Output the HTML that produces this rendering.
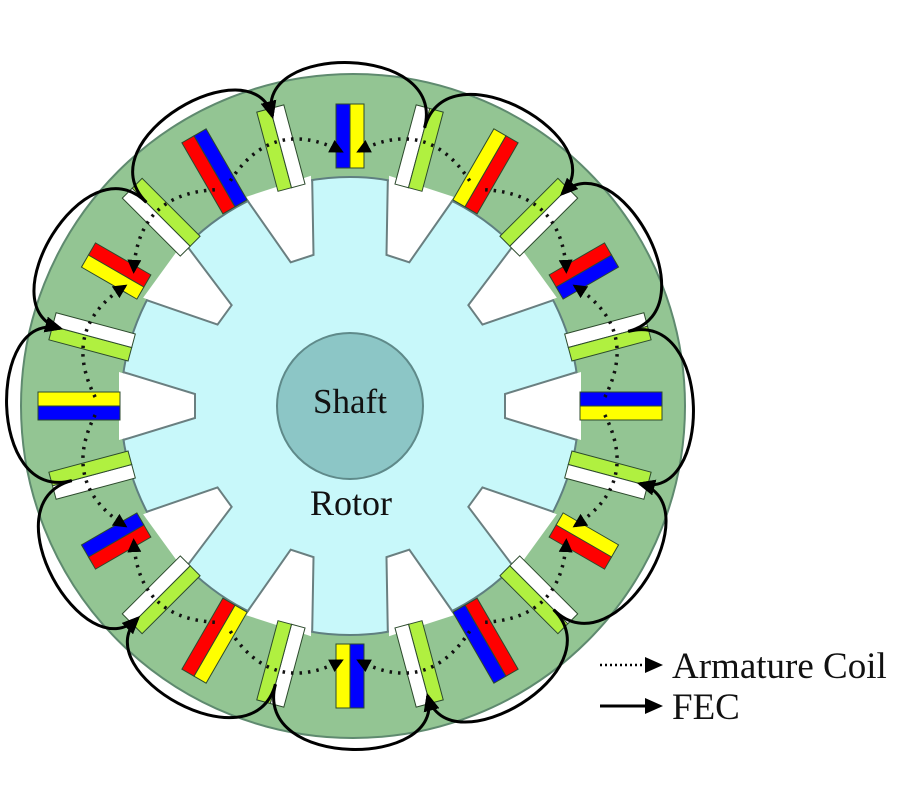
<!DOCTYPE html>
<html><head><meta charset="utf-8"><style>
html,body{margin:0;padding:0;background:#fff;}
svg{display:block;}
text{font-family:"Liberation Serif",serif;fill:#111;}
</style></head><body>
<svg id="s" width="900" height="800" viewBox="0 0 900 800" xmlns="http://www.w3.org/2000/svg">
<defs>
<marker id="ah" markerWidth="14" markerHeight="14" refX="11" refY="7" orient="auto" markerUnits="userSpaceOnUse">
<path d="M0,0 L14,7 L0,14 z" fill="#000"/></marker>
<marker id="ah2" markerWidth="18" markerHeight="18" refX="15" refY="9" orient="auto" markerUnits="userSpaceOnUse">
<path d="M0,1 L18,9 L0,17 z" fill="#000"/></marker>
</defs>
<circle cx="353" cy="406" r="332" fill="#93c593" stroke="#5f8a6f" stroke-width="2"/>
<circle cx="350" cy="406" r="229" fill="#c8f8fa" stroke="#5f7f80" stroke-width="2"/>
<g id="notches"></g>
<g id="slots"></g>
<circle cx="350" cy="406" r="73" fill="#8cc6c6" stroke="#5f8a8a" stroke-width="2"/>
<text x="350" y="413" font-size="35" text-anchor="middle">Shaft</text>
<text x="351" y="515" font-size="36" text-anchor="middle">Rotor</text>
<g id="dots"></g>
<g id="fec"></g>
<line x1="600" y1="665" x2="660" y2="665" stroke="#000" stroke-width="2.5" stroke-dasharray="2,3" marker-end="url(#ah2)"/>
<text x="672" y="678" font-size="37">Armature Coil</text>
<line x1="600" y1="706" x2="660" y2="706" stroke="#000" stroke-width="3" marker-end="url(#ah2)"/>
<text x="672" y="719" font-size="37">FEC</text>
</svg>
<script>
var cx=350,cy=406,NS="http://www.w3.org/2000/svg";
function el(p,t,a){var e=document.createElementNS(NS,t);for(var k in a)e.setAttribute(k,a[k]);p.appendChild(e);return e;}
function P(a,r){var t=a*Math.PI/180;return [cx+r*Math.cos(t),cy-r*Math.sin(t)];}
var N=document.getElementById("notches");
for(var i=0;i<10;i++){var a=i*36;
 var g=el(N,"g",{transform:"rotate("+(-a)+" "+cx+" "+cy+")"});
 el(g,"polygon",{points:(cx+231)+","+(cy-34)+" "+(cx+155)+","+(cy-12)+" "+(cx+155)+","+(cy+12)+" "+(cx+231)+","+(cy+34),fill:"#fff"});
 el(g,"polyline",{points:(cx+227)+","+(cy-34)+" "+(cx+155)+","+(cy-12)+" "+(cx+155)+","+(cy+12)+" "+(cx+227)+","+(cy+34),fill:"none",stroke:"#6a7f80","stroke-width":2});
}
var S=document.getElementById("slots");
var B="#0000ff",Y="#ffff00",R="#ff0000",G="#b0f040",W="#ffffff";
for(var k=0;k<24;k++){var a=k*15;
 var g=el(S,"g",{transform:"rotate("+(-a)+" "+cx+" "+cy+")"});
 var c1,c2,r0=230,r1=312;
 if(k%2==0){var m=a%90;
  if(m==0){c1=B;c2=Y;}else if(m==60){c1=Y;c2=R;}else{c1=R;c2=B;}
  if((a-30)%60==0){r0=238;r1=302;}
 } else {var j=(k-1)/2; if(j%2==0){c1=W;c2=G;}else{c1=G;c2=W;} r0=226;r1=308;}
 el(g,"rect",{x:cx+r0,y:cy-14,width:r1-r0,height:14,fill:c1,stroke:"#2c4a2c","stroke-width":1});
 el(g,"rect",{x:cx+r0,y:cy,width:r1-r0,height:14,fill:c2,stroke:"#2c4a2c","stroke-width":1});
}
var D=document.getElementById("dots");
for(var k=0;k<12;k++){var a=k*30,b=a+30;
 var p0=P(a+2,255),p1=P(a+15,300),p2=P(b-2,255);
 var d="M"+p0+" Q"+p1+" "+p2;
 if(k%2) d="M"+p2+" Q"+p1+" "+p0;
 el(D,"path",{d:d,fill:"none",stroke:"#111","stroke-width":3.5,"stroke-dasharray":"2.5,6","marker-end":"url(#ah)"});
}
var F=document.getElementById("fec");
for(var k=0;k<12;k++){var a=15+k*30,b=a+30,s,e;
 if(((b-45)%60+60)%60==0){s=a;e=b;}else{s=b;e=a;}
 var p0=P(s,288),c1=P(s,376),c2=P(e,376),p3=P(e,300);
 el(F,"path",{d:"M"+p0+" C"+c1+" "+c2+" "+p3,fill:"none",stroke:"#000","stroke-width":3,"marker-end":"url(#ah2)"});
}
</script>
</body></html>
